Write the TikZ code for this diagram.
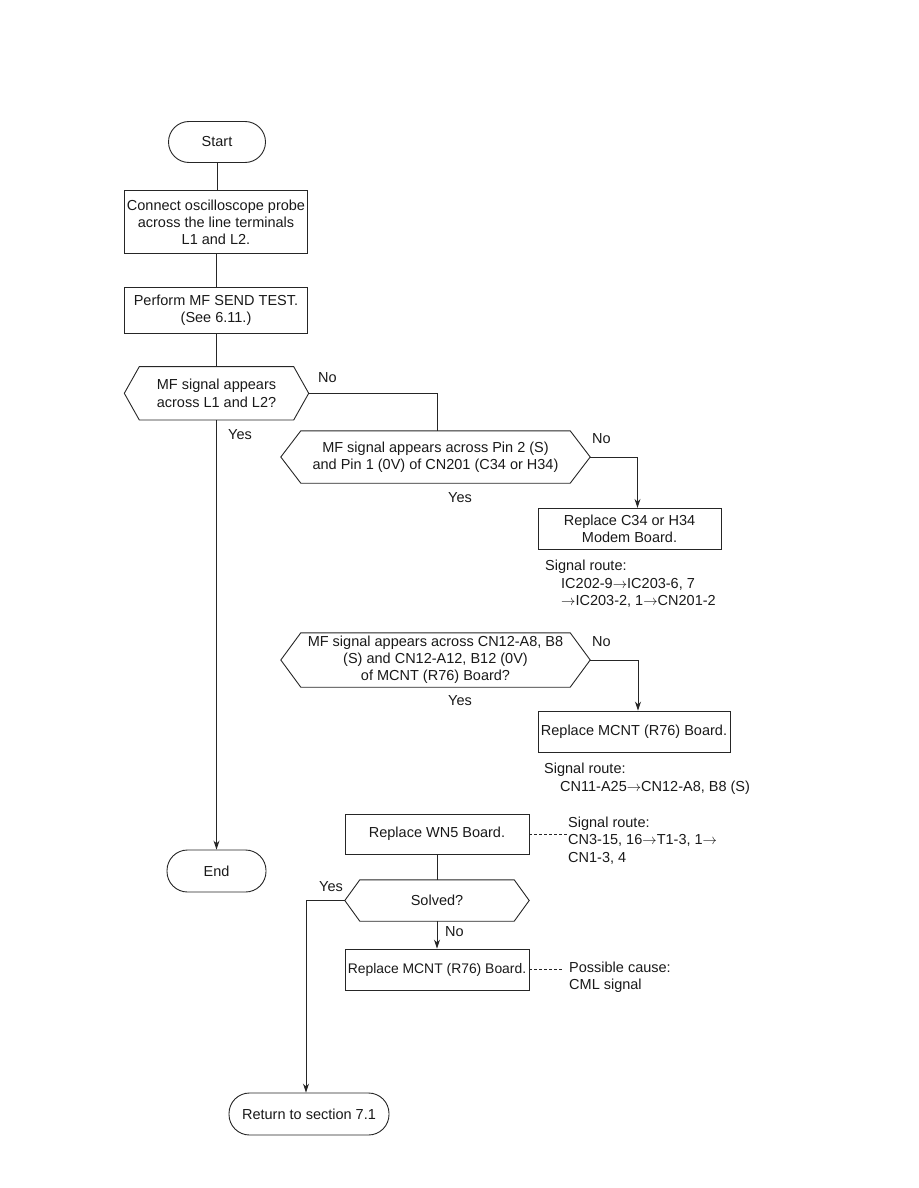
\documentclass[tikz,border=0pt]{standalone}
\usepackage{fontspec}
\setmainfont{Liberation Sans}
\usetikzlibrary{arrows.meta,calc}
\newcommand\hexshape[2]{\draw[line] (#1.west) -- ($(#1.north west)+(#2,0)$) -- ($(#1.north east)+(-#2,0)$) -- (#1.east) -- ($(#1.south east)+(-#2,0)$) -- ($(#1.south west)+(#2,0)$) -- cycle;}
\newcommand\ar{\ensuremath{\rightarrow}}
\begin{document}
\begin{tikzpicture}[x=1pt,y=-1pt,
  every node/.style={font=\fontsize{14.5}{17.2}\selectfont, inner sep=0pt, text=black!90},
  line/.style={draw=black!85, line width=0.9pt},
  term/.style={line, rectangle, rounded corners=20.5pt, minimum height=41pt, align=center},
  proc/.style={line, rectangle, align=center},
  hexnode/.style={rectangle, align=center},
  lbl/.style={anchor=west},
  note/.style={anchor=north west, align=left, font=\fontsize{14.5}{17.5}\selectfont},
  arr/.style={line, -{Stealth[length=9pt,width=6pt]}},
  conn/.style={line},
  dashconn/.style={line, dash pattern=on 3pt off 2pt}
]
\useasboundingbox (0,0) rectangle (918,1188);

% nodes
\node[term, minimum width=97pt] (start) at (217,142) {Start};
\node[proc, minimum width=183pt, minimum height=63pt] (b1) at (216,222.3) {Connect oscilloscope probe\\across the line terminals\\L1 and L2.};
\node[proc, minimum width=183pt, minimum height=46pt] (b2) at (216,310.3) {Perform MF SEND TEST.\\(See 6.11.)};
\node[hexnode, minimum width=184pt, minimum height=53pt] (d1) at (216.5,393.3) {MF signal appears\\across L1 and L2?};
\hexshape{d1}{15}
\node[hexnode, minimum width=309pt, minimum height=52pt] (d2) at (435.5,457) {MF signal appears across Pin 2 (S)\\and Pin 1 (0V) of CN201 (C34 or H34)};
\hexshape{d2}{20}
\node[proc, minimum width=183pt, minimum height=41pt] (r1) at (629.5,528.8) {Replace C34 or H34\\Modem Board.};
\node[note] (n1) at (545,560) {Signal route:\\\hspace*{16pt}IC202-9\ar IC203-6, 7\\\hspace*{16pt}\ar IC203-2, 1\ar CN201-2};
\node[hexnode, minimum width=309pt, minimum height=54pt] (d3) at (435.5,660) {MF signal appears across CN12-A8, B8\\(S) and CN12-A12, B12 (0V)\\of MCNT (R76) Board?};
\hexshape{d3}{20}
\node[proc, minimum width=192pt, minimum height=41pt] (r2) at (634,731.5) {Replace MCNT (R76) Board.};
\node[note] (n2) at (544,763) {Signal route:\\\hspace*{16pt}CN11-A25\ar CN12-A8, B8 (S)};
\node[proc, minimum width=184pt, minimum height=40pt] (wn5) at (437,834) {Replace WN5 Board.};
\node[note] (n3) at (568,816.5) {Signal route:\\CN3-15, 16\ar T1-3, 1\ar\\CN1-3, 4};
\node[term, minimum width=99pt, minimum height=42pt] (end) at (216.5,871) {End};
\node[hexnode, minimum width=184pt, minimum height=41pt] (sv) at (437,900.5) {Solved?};
\hexshape{sv}{15}
\node[proc, minimum width=184pt, minimum height=41pt, font=\fontsize{13.9}{17}\selectfont] (m2) at (437,969.5) {Replace MCNT (R76) Board.};
\node[note, font=\fontsize{14.5}{16.8}\selectfont] (n4) at (569,961.5) {Possible cause:\\CML signal};
\node[term, minimum width=160pt, minimum height=42pt] (ret) at (309,1114) {Return to section 7.1};

% labels
\node[lbl] (l1) at (318,378) {No};
\node[lbl] (l2) at (228,435) {Yes};
\node[lbl] (l3) at (592,439) {No};
\node[lbl] (l4) at (448,498) {Yes};
\node[lbl] (l5) at (592,641.7) {No};
\node[lbl] (l6) at (448,701) {Yes};
\node[lbl] (l7) at (319,886.7) {Yes};
\node[lbl] (l8) at (445,931.7) {No};

% connectors
\draw[conn] (start) -- (start |- b1.north);
\draw[conn] (b1) -- (b1 |- b2.north);
\draw[conn] (b2) -- (b2 |- d1.north);
\draw[arr] (d1.south) -- (d1.south |- end.north);
\draw[conn] (d1.east) -| ($(d2.north)+(1.5,0)$);
\draw[arr] (d2.east) -| ($(r1.north)+(8,0)$);
\draw[conn] ($(d2.south)+(1.5,0)$) -- ($(d2.south)+(1.5,0)$ |- d3.north);
\draw[arr] (d3.east) -| ($(r2.north)+(4,0)$);
\draw[conn] ($(d3.south)+(1.5,0)$) -- ($(d3.south)+(1.5,0)$ |- wn5.north);
\draw[conn] (wn5.south) -- (sv.north);
\draw[arr] (sv.south) -- (m2.north);
\draw[arr] (sv.west) -| ($(ret.north)+(-3,0)$);
\coordinate (c1) at (567,834);
\draw[dashconn] (wn5.east) -- (c1);
\coordinate (c2) at (563,969.5);
\draw[dashconn] (m2.east) -- (c2);
\end{tikzpicture}
\end{document}
